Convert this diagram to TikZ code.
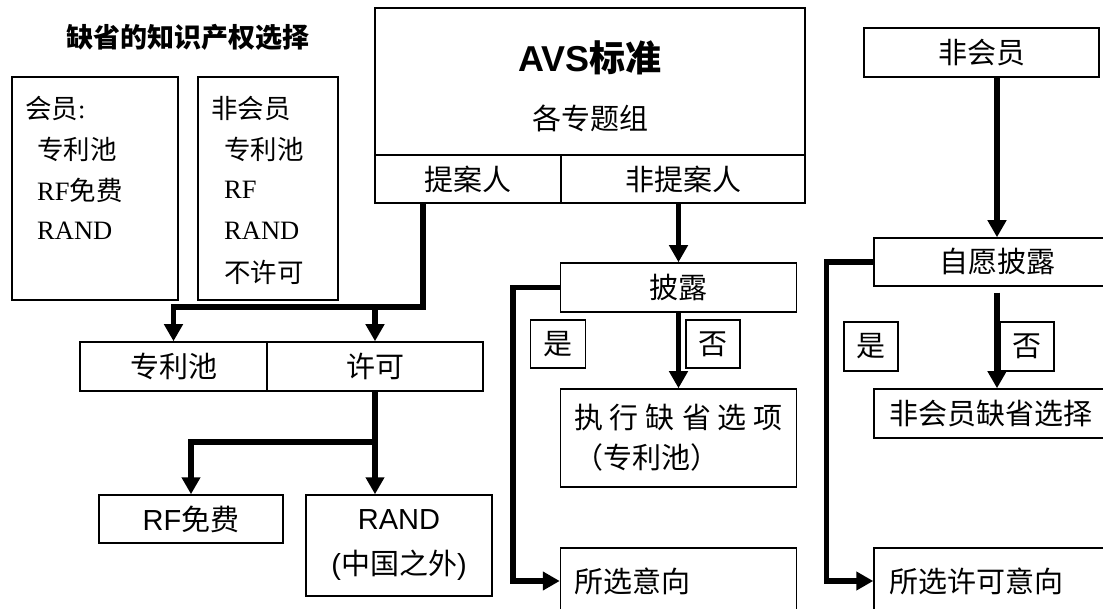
\documentclass[tikz,border=0pt]{standalone}
\usepackage{fontspec}
\setmainfont{Noto Sans CJK SC}
\newfontfamily\arial{Liberation Sans}
\newfontfamily\tnr{Liberation Serif}
\usetikzlibrary{arrows.meta}

\tikzset{
  box/.style={draw, line width=1.5pt, inner sep=0pt, font=\fontsize{29}{40}\selectfont},
  leftbox/.style={box, align=left},
  item/.style={anchor=west, inner sep=0pt, font=\fontsize{26.5}{32}\selectfont},
  rail/.style={line width=5.5pt},
  flow/.style={rail, -{Triangle[width=18pt,length=17pt]}},
}

\begin{document}
\begin{tikzpicture}[x=1pt,y=-1pt]
\useasboundingbox (0,0) rectangle (1103,609);
\clip (0,0) rectangle (1103,609);
% title and the two lists
\node[font=\bfseries\fontsize{27}{32}\selectfont] (title) at (188,37) {缺省的知识产权选择};
\node[box, minimum width=166pt, minimum height=223pt] (member) at (95,188.5) {};
\node[item] (mhead) at (25,108) {会员{\tnr :}};
\foreach \t [count=\i] in {{专利池},{{\tnr RF}免费},{\tnr RAND}}
  \node[item] (m\i) at (37,{149+41*(\i-1)}) {\t};
\node[box, minimum width=140pt, minimum height=223pt] (nonmember) at (268,188.5) {};
\node[item] (nhead) at (211,108) {非会员};
\foreach \t [count=\i] in {{专利池},{\tnr RF},{\tnr RAND},{不许可}}
  \node[item] (n\i) at (224,{149+41*(\i-1)}) {\t};

% AVS standard
\node[box, minimum width=430pt, minimum height=147pt] (avs) at (590,81.5) {};
\node[font=\bfseries\fontsize{36}{40}\selectfont] (avstitle) at (590,58) {{\arial AVS}标准};
\node[font=\fontsize{29}{40}\selectfont] (groups) at (590,118) {各专题组};
\node[box, minimum width=186pt, minimum height=48pt] (proposer) at (468,179) {提案人};
\node[box, minimum width=244pt, minimum height=48pt] (nonproposer) at (683,179) {非提案人};

% proposer branch
\node[box, minimum width=187pt, minimum height=49pt] (pool) at (173.5,366.5) {专利池};
\node[box, minimum width=216pt, minimum height=49pt] (license) at (375,366.5) {许可};
\node[box, minimum width=184pt, minimum height=48pt] (rf) at (191,519) {{\arial RF}免费};
\node[box, align=center, minimum width=186pt, minimum height=101pt, font=\fontsize{29}{45}\selectfont] (rand) at (399,545.5) {{\arial RAND}\\{\arial(}中国之外{\arial)}};

% non-proposer branch
\node[box, minimum width=236pt, minimum height=49pt] (disclose) at (678.5,287.5) {披露};
\node[box, minimum width=55pt, minimum height=48pt] (yes1) at (558,344) {是};
\node[box, minimum width=54pt, minimum height=48pt] (no1) at (713,344) {否};
\node[leftbox, text width=209pt, minimum width=236pt, minimum height=98pt] (default1) at (678.5,438)
  {\makebox[209pt]{执\hfill 行\hfill 缺\hfill 省\hfill 选\hfill 项}\\（专利池）};
\node[leftbox, text width=209pt, minimum width=236pt, minimum height=66pt] (chosen1) at (678.5,581) {所选意向};

% non-member branch
\node[box, minimum width=235pt, minimum height=49pt] (nonmember2) at (981.5,52.5) {非会员};
\node[box, minimum width=246pt, minimum height=48pt] (voluntary) at (997,262) {自愿披露};
\node[box, minimum width=54pt, minimum height=49pt] (yes2) at (871,346.5) {是};
\node[box, minimum width=54pt, minimum height=49pt] (no2) at (1027,346.5) {否};
\node[leftbox, text width=216pt, minimum width=246pt, minimum height=49pt] (default2) at (997,413.5) {非会员缺省选择};
\node[leftbox, text width=216pt, minimum width=246pt, minimum height=66pt] (chosen2) at (997,581) {所选许可意向};

% connectors
\coordinate (fork1) at (423,307);
\draw[flow] ([xshift=-45pt]proposer.south) -- (fork1) -| (pool.north);
\draw[flow] (fork1 -| license.north) -- (license.north);
\coordinate (fork2) at (375,442);
\draw[flow] (license.south) -- (fork2) -| (rf.north);
\draw[flow] (fork2) -- (fork2 |- rand.north);
\draw[flow] (disclose.north |- nonproposer.south) -- (disclose.north);
\draw[flow] (disclose.south) -- (default1.north);
\draw[flow] (disclose.west) -- ++(-47,0) |- (chosen1.west);
\draw[flow] (voluntary.north |- nonmember2.south) -- (voluntary.north);
\draw[flow, shorten <=6pt] (voluntary.south) -- (default2.north);
\draw[flow] (voluntary.west) -- ++(-47,0) |- (chosen2.west);
\end{tikzpicture}
\end{document}
